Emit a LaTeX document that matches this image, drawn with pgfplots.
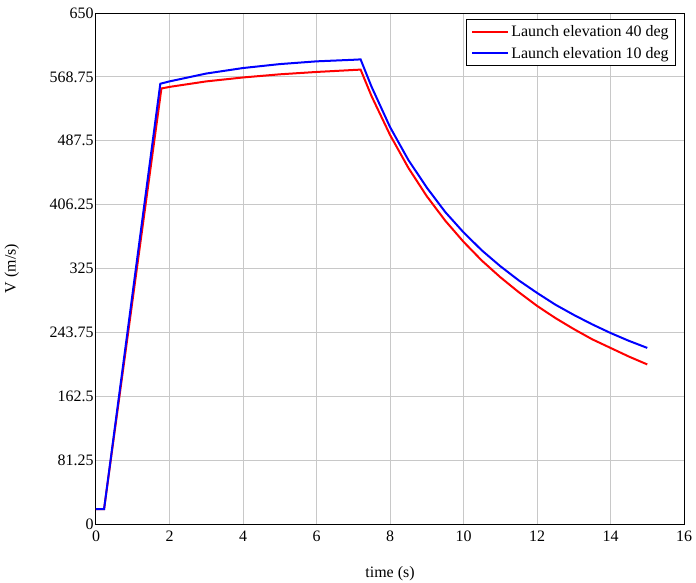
\documentclass[border=0pt]{standalone}
\usepackage{pgfplots}
\pgfplotsset{compat=1.18}
\usepackage{fontspec}
\setmainfont{Liberation Serif}
\definecolor{gridgray}{RGB}{200,200,200}
\begin{document}
\begin{tikzpicture}
\useasboundingbox (-96bp,-59bp) rectangle (600bp,524bp);
\begin{axis}[
  at={(0,0)}, anchor=south west,
  scale only axis, width=588bp, height=511bp,
  xmin=0, xmax=16, ymin=0, ymax=650,
  xtick={0,2,...,16},
  ytick={0,81.25,162.5,243.75,325,406.25,487.5,568.75,650},
  yticklabels={0,81.25,162.5,243.75,325,406.25,487.5,568.75,650},
  /pgf/number format/assume math mode=true,
  tick label style={font=\fontsize{16}{19}\selectfont},
  xticklabel style={yshift=-3bp},
  yticklabel style={xshift=1bp},
  label style={font=\fontsize{16}{19}\selectfont},
  major tick length=0pt,
  grid=major,
  grid style={gridgray, line width=1bp},
  axis line style={black, line width=1bp},
  xlabel={time (s)}, ylabel={V (m/s)},
  xlabel style={at={(axis description cs:0.5,-0.098)}, anchor=center},
  ylabel style={at={(axis description cs:-0.143,0.5)}, anchor=center},
  legend style={at={(axis cs:15.78,642)}, anchor=north east, draw=black, line width=0.8bp,
    font=\fontsize{16}{19}\selectfont, inner xsep=5bp, inner ysep=4bp, row sep=5bp},
  legend cell align=left,
  legend image code/.code={\draw[#1, line width=2bp] (0bp,0bp) -- (36bp,0bp);},
]
\addplot[red, line width=2bp] coordinates {
(0,19) (0.22,19) (1.78,554) (2,556) (3,563) (4,568) (5,572) (6,575) (7,577.5) (7.2,578)
(7.5,544) (8,495) (8.5,453) (9,417) (9.5,386) (10,359) (10.5,335) (11,314) (11.5,295)
(12,277.5) (12.5,262) (13,248) (13.5,235) (14,224) (14.5,213) (15,203)
};
\addlegendentry{Launch elevation 40 deg}
\addplot[blue, line width=2bp] coordinates {
(0,19) (0.22,19) (1.75,560) (2,563) (3,573) (4,580) (5,585) (6,588.5) (7,590.5) (7.2,591)
(7.5,556) (8,505) (8.5,463) (9,428) (9.5,397) (10,371) (10.5,348) (11,328) (11.5,310)
(12,294) (12.5,279) (13,266) (13.5,254) (14,243) (14.5,233) (15,224)
};
\addlegendentry{Launch elevation 10 deg}
\end{axis}
\end{tikzpicture}
\end{document}
